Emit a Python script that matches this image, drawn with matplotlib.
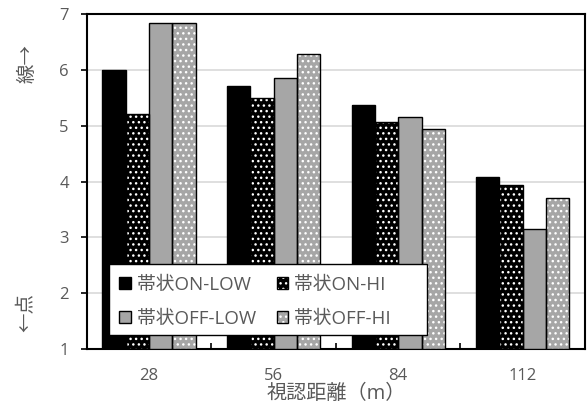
import matplotlib
matplotlib.use("Agg")
import matplotlib.pyplot as plt
import numpy as np
from matplotlib.legend_handler import HandlerTuple
from matplotlib.patches import Patch, Rectangle

plt.rcParams['font.family'] = ['Open Sans', 'Noto Sans CJK JP', 'DejaVu Sans']
plt.rcParams['hatch.linewidth'] = 1.0

categories = ['28', '56', '84', '112']
series_names = ['帯状ON-LOW', '帯状ON-HI', '帯状OFF-LOW', '帯状OFF-HI']
on_low = [6.00, 5.71, 5.37, 4.08]
on_hi = [5.21, 5.49, 5.06, 3.93]
off_low = [6.84, 5.86, 5.15, 3.15]
off_hi = [6.84, 6.29, 4.94, 3.70]
y_ticks = [1, 2, 3, 4, 5, 6, 7]

series = [on_low, on_hi, off_low, off_hi]
faces = ['#000000', '#000000', '#a6a6a6', '#a6a6a6']
hatches = [None, '...', None, '...']

fig = plt.figure(figsize=(5.87, 4.07), dpi=100)
ax = fig.add_axes([0.148, 0.1425, 0.8486, 0.8231])

x = np.arange(len(categories))
w = 0.1875
handles = []
for i, (vals, fc, h) in enumerate(zip(series, faces, hatches)):
    pos = x + (i - 1.5) * w
    heights = [v - 1 for v in vals]
    if h:
        ax.bar(pos, heights, w, bottom=1, color=fc, edgecolor='white', hatch=h, linewidth=0, zorder=3)
    else:
        ax.bar(pos, heights, w, bottom=1, color=fc, linewidth=0, zorder=3)
    ax.bar(pos, heights, w, bottom=1, fill=False, edgecolor='black', linewidth=1.0, zorder=4)
    if h:
        hp = Patch(facecolor=fc, edgecolor='white', hatch=h, linewidth=0)
    else:
        hp = Patch(facecolor=fc, linewidth=0)
    op = Patch(fill=False, edgecolor='black', linewidth=1.0)
    handles.append((hp, op))

ax.set_xlim(-0.5, 3.5)
ax.set_ylim(1, 7)
ax.set_yticks(y_ticks)
ax.set_xticks(x)
ax.set_xticklabels(categories)
ax.set_xticks([0.5, 1.5, 2.5], minor=True)
ax.tick_params(axis='x', which='major', length=0, pad=14, labelsize=12, colors='#595959')
ax.tick_params(axis='x', which='minor', length=4, direction='in', width=1.2, color='black')
ax.tick_params(axis='y', length=4, width=1.2, direction='out', pad=9, labelsize=12, labelcolor='#595959', color='black')
ax.yaxis.grid(True, color='#d9d9d9', linewidth=1.2, zorder=0)
ax.set_axisbelow(True)
for s in ax.spines.values():
    s.set_linewidth(1.5)
    s.set_color('black')

ax.set_xlabel('視認距離（m）', fontsize=14.5, color='#595959', labelpad=0)

fig.text(0.046, 0.845, '線→', rotation=90, ha='center', va='center', fontsize=14, color='#595959')
fig.text(0.046, 0.231, '←点', rotation=90, ha='center', va='center', fontsize=14, color='#595959')

# legend frame (Excel-style box)
ax.add_patch(Rectangle((0.0442, 0.0418), 0.6385, 0.2119, transform=ax.transAxes,
                       facecolor='white', edgecolor='black', linewidth=1.0, zorder=9))

order = [0, 2, 1, 3]
leg = ax.legend([handles[k] for k in order], [series_names[k] for k in order],
                handler_map={tuple: HandlerTuple(ndivide=1, pad=0)},
                ncol=2, loc='upper left', bbox_to_anchor=(0.0482, 0.2437), borderaxespad=0,
                frameon=False, fontsize=13.5,
                handlelength=0.62, handleheight=0.62, handletextpad=0.32,
                columnspacing=1.1, labelspacing=0.85, borderpad=0.45,
                labelcolor='#595959')
leg.set_zorder(10)

fig.savefig('out.png', dpi=100)
